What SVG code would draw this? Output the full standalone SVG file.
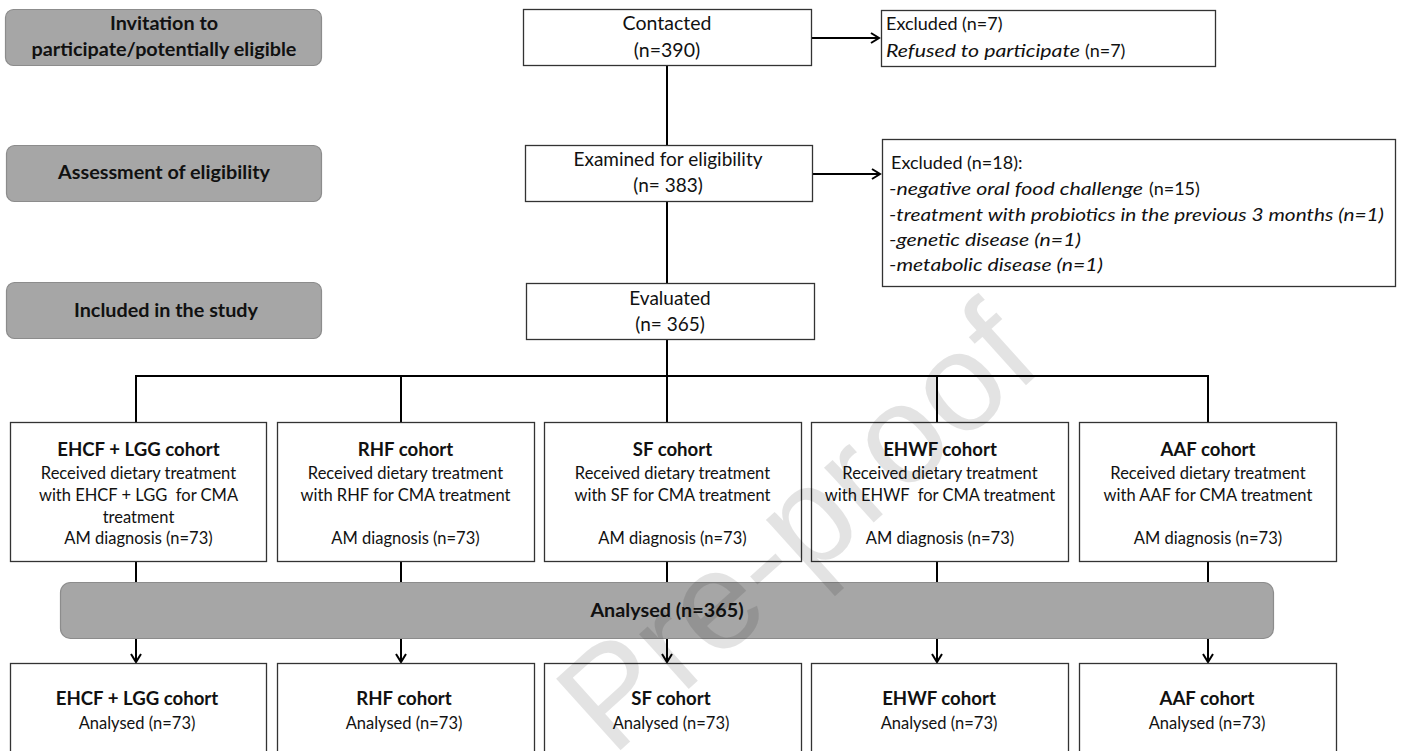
<svg xmlns="http://www.w3.org/2000/svg" width="1404" height="751" viewBox="0 0 1404 751">
<style>
.t{font-family:Lato,"Liberation Sans",sans-serif;font-size:16.5px;fill:#111}
.m{font-size:18px}
.b{font-family:Lato,"Liberation Sans",sans-serif;font-size:18.6px;font-weight:bold;fill:#111}
.g{font-family:Lato,"Liberation Sans",sans-serif;font-size:19.8px;font-weight:bold;fill:#111}
.c{text-anchor:middle}
.box{fill:#fff;stroke:#333;stroke-width:1.3}
.gray{fill:#a6a6a6;stroke:#8c8c8c;stroke-width:1.2}
.ln{stroke:#000;stroke-width:2;fill:none}
.i{font-style:italic}
</style>
<defs>
<marker id="ah" markerWidth="12" markerHeight="12" refX="10" refY="6" orient="auto" markerUnits="userSpaceOnUse">
<path d="M2,1 L10,6 L2,11" fill="none" stroke="#000" stroke-width="2"/>
</marker>
</defs>
<rect width="1404" height="751" fill="#fff"/>

<g id="connectors">
<line class="ln" x1="812" y1="38" x2="879" y2="38" marker-end="url(#ah)"/>
<line class="ln" x1="813" y1="174" x2="880" y2="174" marker-end="url(#ah)"/>
<line class="ln" x1="667" y1="66" x2="667" y2="145"/>
<line class="ln" x1="667" y1="202" x2="667" y2="283"/>
<line class="ln" x1="667" y1="340" x2="667" y2="376"/>
<line class="ln" x1="135" y1="376" x2="1209" y2="376"/>
<line class="ln" x1="136" y1="376" x2="136" y2="422"/>
<line class="ln" x1="401" y1="376" x2="401" y2="422"/>
<line class="ln" x1="667" y1="376" x2="667" y2="422"/>
<line class="ln" x1="937" y1="376" x2="937" y2="422"/>
<line class="ln" x1="1208" y1="376" x2="1208" y2="422"/>
<line class="ln" x1="136" y1="562" x2="136" y2="583"/>
<line class="ln" x1="401" y1="562" x2="401" y2="583"/>
<line class="ln" x1="667" y1="562" x2="667" y2="583"/>
<line class="ln" x1="937" y1="562" x2="937" y2="583"/>
<line class="ln" x1="1208" y1="562" x2="1208" y2="583"/>
<line class="ln" x1="136" y1="639" x2="136" y2="662" marker-end="url(#ah)"/>
<line class="ln" x1="401" y1="639" x2="401" y2="662" marker-end="url(#ah)"/>
<line class="ln" x1="667" y1="639" x2="667" y2="662" marker-end="url(#ah)"/>
<line class="ln" x1="937" y1="639" x2="937" y2="662" marker-end="url(#ah)"/>
<line class="ln" x1="1208" y1="639" x2="1208" y2="662" marker-end="url(#ah)"/>
</g>

<g id="stage-invitation">
<rect class="gray" x="5.5" y="9.5" width="316" height="56" rx="8"/>
<text class="g c" x="164" y="30">Invitation to</text>
<text class="g c" x="164" y="56">participate/potentially eligible</text>
</g>
<g id="stage-assessment">
<rect class="gray" x="6.5" y="145.5" width="315" height="56" rx="8"/>
<text class="g c" x="164" y="179">Assessment of eligibility</text>
</g>
<g id="stage-included">
<rect class="gray" x="6.5" y="282.5" width="315" height="56" rx="8"/>
<text class="g c" x="166" y="317">Included in the study</text>
</g>

<g id="contacted">
<rect class="box" x="523.5" y="9.5" width="288" height="56"/>
<text class="t m c" x="667" y="30" style="font-size:19.5px">Contacted</text>
<text class="t m c" x="667" y="57" style="font-size:19.5px">(n=390)</text>
</g>
<g id="excluded-7">
<rect class="box" x="881.5" y="10.5" width="334" height="56"/>
<text class="t m" x="886" y="30">Excluded (n=7)</text>
<text class="t m i" x="886" y="57" textLength="194" lengthAdjust="spacingAndGlyphs">Refused to participate</text>
<text class="t m" x="1085" y="57">(n=7)</text>
</g>
<g id="examined">
<rect class="box" x="525.5" y="145.5" width="287" height="56"/>
<text class="t c" x="668" y="166" style="font-size:19px">Examined for eligibility</text>
<text class="t c" x="668" y="192" style="font-size:19px">(n= 383)</text>
</g>
<g id="excluded-18">
<rect class="box" x="882.5" y="139.5" width="513" height="147"/>
<text class="t m" x="891" y="169">Excluded (n=18):</text>
<text class="t m i" x="889" y="195" textLength="254" lengthAdjust="spacingAndGlyphs">-negative oral food challenge</text>
<text class="t m" x="1149" y="195">(n=15)</text>
<text class="t m i" x="889" y="221" textLength="495" lengthAdjust="spacingAndGlyphs">-treatment with probiotics in the previous 3 months (n=1)</text>
<text class="t m i" x="889" y="246" textLength="192" lengthAdjust="spacingAndGlyphs">-genetic disease (n=1)</text>
<text class="t m i" x="889" y="271" textLength="214" lengthAdjust="spacingAndGlyphs">-metabolic disease (n=1)</text>
</g>
<g id="evaluated">
<rect class="box" x="526.5" y="283.5" width="288" height="56"/>
<text class="t c" x="670" y="305" style="font-size:19px">Evaluated</text>
<text class="t c" x="670" y="331" style="font-size:19px">(n= 365)</text>
</g>

<g id="cohort-ehcf">
<rect class="box" x="10.5" y="422.5" width="256" height="139"/>
<text class="b c" x="138.5" y="456">EHCF + LGG cohort</text>
<text class="t c" x="138.5" y="479">Received dietary treatment</text>
<text class="t c" x="138.5" y="501">with EHCF + LGG&#160; for CMA</text>
<text class="t c" x="138.5" y="523">treatment</text>
<text class="t c" x="138.5" y="544">AM diagnosis (n=73)</text>
</g>
<g id="cohort-rhf">
<rect class="box" x="277.5" y="422.5" width="257" height="139"/>
<text class="b c" x="405.5" y="456">RHF cohort</text>
<text class="t c" x="405.5" y="479">Received dietary treatment</text>
<text class="t c" x="405.5" y="501">with RHF for CMA treatment</text>
<text class="t c" x="405.5" y="544">AM diagnosis (n=73)</text>
</g>
<g id="cohort-sf">
<rect class="box" x="544.5" y="422.5" width="257" height="139"/>
<text class="b c" x="672.5" y="456">SF cohort</text>
<text class="t c" x="672.5" y="479">Received dietary treatment</text>
<text class="t c" x="672.5" y="501">with SF for CMA treatment</text>
<text class="t c" x="672.5" y="544">AM diagnosis (n=73)</text>
</g>
<g id="cohort-ehwf">
<rect class="box" x="811.5" y="422.5" width="257" height="139"/>
<text class="b c" x="940" y="456">EHWF cohort</text>
<text class="t c" x="940" y="479">Received dietary treatment</text>
<text class="t c" x="940" y="501">with EHWF&#160; for CMA treatment</text>
<text class="t c" x="940" y="544">AM diagnosis (n=73)</text>
</g>
<g id="cohort-aaf">
<rect class="box" x="1079.5" y="422.5" width="257" height="139"/>
<text class="b c" x="1208" y="456">AAF cohort</text>
<text class="t c" x="1208" y="479">Received dietary treatment</text>
<text class="t c" x="1208" y="501">with AAF for CMA treatment</text>
<text class="t c" x="1208" y="544">AM diagnosis (n=73)</text>
</g>

<g id="analysed">
<rect class="gray" x="60.5" y="582.5" width="1213" height="56" rx="10"/>
<text class="g c" x="667" y="617">Analysed (n=365)</text>
</g>

<g id="final-ehcf">
<rect class="box" x="10.5" y="663.5" width="256" height="100"/>
<text class="b c" x="137" y="705">EHCF + LGG cohort</text>
<text class="t c" x="137" y="729">Analysed (n=73)</text>
</g>
<g id="final-rhf">
<rect class="box" x="277.5" y="663.5" width="257" height="100"/>
<text class="b c" x="404" y="705">RHF cohort</text>
<text class="t c" x="404" y="729">Analysed (n=73)</text>
</g>
<g id="final-sf">
<rect class="box" x="544.5" y="663.5" width="257" height="100"/>
<text class="b c" x="671" y="705">SF cohort</text>
<text class="t c" x="671" y="729">Analysed (n=73)</text>
</g>
<g id="final-ehwf">
<rect class="box" x="811.5" y="663.5" width="257" height="100"/>
<text class="b c" x="939" y="705">EHWF cohort</text>
<text class="t c" x="939" y="729">Analysed (n=73)</text>
</g>
<g id="final-aaf">
<rect class="box" x="1079.5" y="663.5" width="257" height="100"/>
<text class="b c" x="1207" y="705">AAF cohort</text>
<text class="t c" x="1207" y="729">Analysed (n=73)</text>
</g>

<g id="watermark">
<text transform="translate(612,758) rotate(-42)" x="0" y="0" style="font-family:'Liberation Sans',Arial,sans-serif;font-size:140px;fill:#000;fill-opacity:0.11">Pre-proof</text>
</g>
</svg>
